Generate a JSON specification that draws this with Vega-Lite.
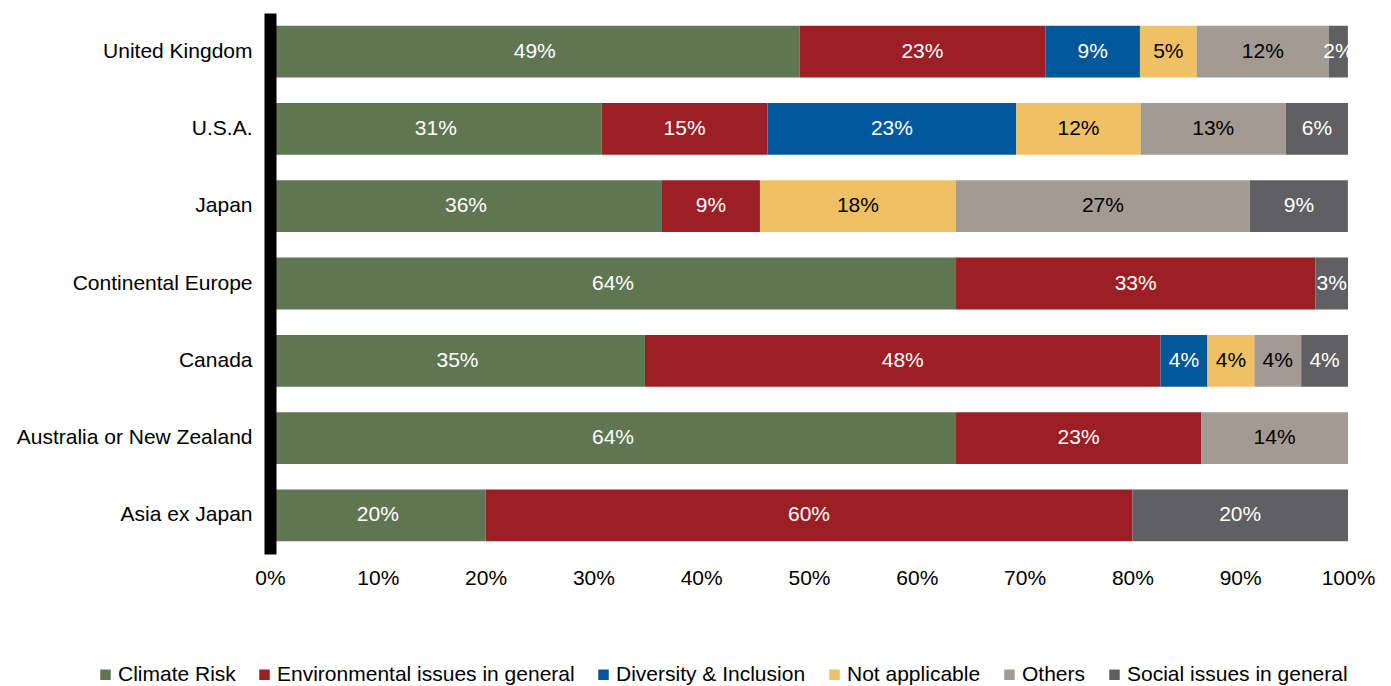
{
  "$schema": "https://vega.github.io/schema/vega-lite/v6.json",
  "autosize": "none",
  "width": 1078,
  "height": 541,
  "padding": {"left": 270, "top": 13, "right": 43, "bottom": 132},
  "background": "white",
  "config": {
    "font": "Liberation Sans",
    "view": {"stroke": null},
    "axis": {"labelFont": "Liberation Sans", "labelColor": "black", "labelFontSize": 21}
  },
  "data": {"values": [
    {"country": "United Kingdom", "category": "Climate Risk", "value": 0.4912},
    {"country": "United Kingdom", "category": "Environmental issues in general", "value": 0.2281},
    {"country": "United Kingdom", "category": "Diversity & Inclusion", "value": 0.0877},
    {"country": "United Kingdom", "category": "Not applicable", "value": 0.0526},
    {"country": "United Kingdom", "category": "Others", "value": 0.1228},
    {"country": "United Kingdom", "category": "Social issues in general", "value": 0.0175},
    {"country": "U.S.A.", "category": "Climate Risk", "value": 0.3077},
    {"country": "U.S.A.", "category": "Environmental issues in general", "value": 0.1538},
    {"country": "U.S.A.", "category": "Diversity & Inclusion", "value": 0.2308},
    {"country": "U.S.A.", "category": "Not applicable", "value": 0.1154},
    {"country": "U.S.A.", "category": "Others", "value": 0.1346},
    {"country": "U.S.A.", "category": "Social issues in general", "value": 0.0577},
    {"country": "Japan", "category": "Climate Risk", "value": 0.3636},
    {"country": "Japan", "category": "Environmental issues in general", "value": 0.0909},
    {"country": "Japan", "category": "Not applicable", "value": 0.1818},
    {"country": "Japan", "category": "Others", "value": 0.2727},
    {"country": "Japan", "category": "Social issues in general", "value": 0.0909},
    {"country": "Continental Europe", "category": "Climate Risk", "value": 0.6364},
    {"country": "Continental Europe", "category": "Environmental issues in general", "value": 0.3333},
    {"country": "Continental Europe", "category": "Social issues in general", "value": 0.0303},
    {"country": "Canada", "category": "Climate Risk", "value": 0.3478},
    {"country": "Canada", "category": "Environmental issues in general", "value": 0.4783},
    {"country": "Canada", "category": "Diversity & Inclusion", "value": 0.0435},
    {"country": "Canada", "category": "Not applicable", "value": 0.0435},
    {"country": "Canada", "category": "Others", "value": 0.0435},
    {"country": "Canada", "category": "Social issues in general", "value": 0.0434},
    {"country": "Australia or New Zealand", "category": "Climate Risk", "value": 0.6364},
    {"country": "Australia or New Zealand", "category": "Environmental issues in general", "value": 0.2273},
    {"country": "Australia or New Zealand", "category": "Others", "value": 0.1363},
    {"country": "Asia ex Japan", "category": "Climate Risk", "value": 0.2},
    {"country": "Asia ex Japan", "category": "Environmental issues in general", "value": 0.6},
    {"country": "Asia ex Japan", "category": "Social issues in general", "value": 0.2}
  ]},
  "transform": [
    {"calculate": "indexof(['Climate Risk','Environmental issues in general','Diversity & Inclusion','Not applicable','Others','Social issues in general'], datum.category)", "as": "ord"},
    {"stack": "value", "groupby": ["country"], "sort": [{"field": "ord", "order": "ascending"}], "as": ["x0", "x1"]},
    {"calculate": "(datum.x0 + datum.x1) / 2", "as": "xmid"}
  ],
  "encoding": {
    "y": {
      "field": "country", "type": "nominal",
      "sort": ["United Kingdom", "U.S.A.", "Japan", "Continental Europe", "Canada", "Australia or New Zealand", "Asia ex Japan"],
      "scale": {"paddingInner": 0.33, "paddingOuter": 0.165},
      "axis": {"title": null, "domainColor": "black", "domainWidth": 12, "ticks": false, "labelPadding": 18, "labelFontSize": 21, "labelLimit": 400, "zindex": 1}
    }
  },
  "layer": [
    {
      "mark": {"type": "bar"},
      "encoding": {
        "x": {"field": "x0", "type": "quantitative", "scale": {"domain": [0, 1], "nice": false},
              "axis": {"title": null, "format": ".0%", "values": [0,0.1,0.2,0.3,0.4,0.5,0.6,0.7,0.8,0.9,1], "grid": false, "domain": false, "ticks": false, "labelPadding": 13, "labelFontSize": 21, "labelFlush": false}},
        "x2": {"field": "x1"},
        "color": {
          "field": "category", "type": "nominal",
          "scale": {
            "domain": ["Climate Risk", "Environmental issues in general", "Diversity & Inclusion", "Not applicable", "Others", "Social issues in general"],
            "range": ["#607653", "#9B1F24", "#00579A", "#F0C064", "#A39A93", "#606062"]
          },
          "legend": {
            "title": null, "orient": "none", "direction": "horizontal",
            "legendX": -175, "legendY": 651, "padding": 0,
            "symbolType": "square", "symbolSize": 110, "symbolStrokeWidth": 0,
            "labelFontSize": 21, "labelColor": "black", "labelFont": "Liberation Sans",
            "columnPadding": 18, "symbolOffset": 0, "labelOffset": 2, "labelLimit": 400
          }
        }
      }
    },
    {
      "mark": {"type": "text", "fontSize": 21, "baseline": "middle", "align": "center"},
      "encoding": {
        "x": {"field": "xmid", "type": "quantitative"},
        "text": {"field": "value", "type": "quantitative", "format": ".0%"},
        "color": {
          "condition": {"test": "datum.category === 'Not applicable' || datum.category === 'Others'", "value": "black"},
          "value": "white"
        }
      }
    }
  ]
}
